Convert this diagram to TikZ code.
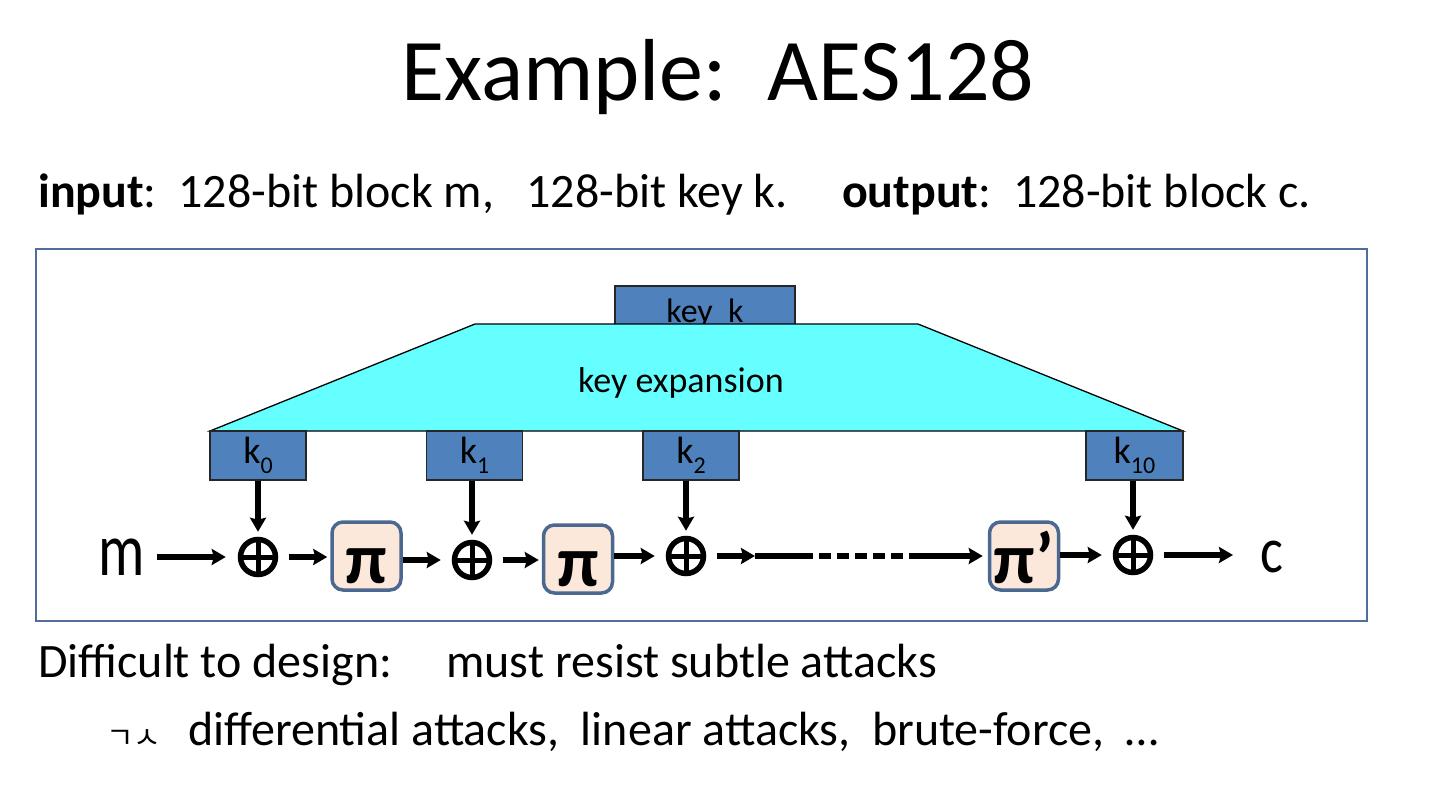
\documentclass[tikz,border=0pt]{standalone}
\usepackage{fontspec}
\setmainfont{Carlito}
\newfontfamily\krfont{Noto Sans CJK KR}
\usetikzlibrary{arrows.meta}
\definecolor{framecol}{HTML}{4F6E9E}
\definecolor{keyfill}{HTML}{4F81BD}
\definecolor{expfill}{HTML}{66FFFF}
\definecolor{pifill}{HTML}{FCE8DA}
\definecolor{piedge}{HTML}{4A6890}
\newcommand{\ksub}[1]{k\raisebox{-10pt}{\fontsize{24}{24}\selectfont #1}}
\tikzset{
  keybox/.style={draw=black!85, fill=keyfill, line width=1.3pt, minimum height=49pt, inner sep=0pt, font=\fontsize{38}{38}\selectfont},
  pibox/.style={draw=piedge, fill=pifill, line width=3.5pt, rounded corners=11pt, minimum width=69pt, minimum height=68pt, inner sep=0pt},
  pitext/.style={font=\fontsize{72}{72}\selectfont\bfseries, anchor=base, inner sep=0pt},
  flowline/.style={line width=6pt, -{Stealth[length=14pt,width=16pt,inset=2pt]}},
  xorsym/.style={circle, draw=black, line width=5.5pt, minimum size=35pt, inner sep=0pt},
  big/.style={font=\fontsize{48}{48}\selectfont, anchor=base west, inner sep=0pt},
}
\begin{document}
\begin{tikzpicture}[x=1pt,y=-1pt]
\useasboundingbox (0,0) rectangle (1440,811);
\node[font=\fontsize{88}{88}\selectfont, anchor=base] (title) at (718,100) {Example:\ \ AES128};
\node[big] (io) at (38,207) {\textbf{input}:\ \ 128-bit block m,\ \ \ 128-bit key k.\ \ \ \ \ \textbf{output}:\ \ 128-bit block c.};
\draw[framecol, line width=2pt] (36,249) rectangle (1367,621);
% key box (behind the trapezoid)
\draw[draw=black!85, fill=keyfill, line width=1.3pt] (615,286) rectangle (795,330);
\node[font=\fontsize{34}{34}\selectfont, anchor=base, inner sep=0pt] (key) at (705,322) {key\ \ k};
% key expansion trapezoid
\draw[fill=expfill, line width=1.3pt] (475,324) -- (918,324) -- (1183,431) -- (210,431) -- cycle;
\node[font=\fontsize{36}{36}\selectfont] (kexp) at (681,383) {key expansion};
\node[keybox, minimum width=96pt] (k0) at (258,455.5) {\ksub{0}};
\node[keybox, minimum width=96pt] (k1) at (474.5,455.5) {\ksub{1}};
\node[keybox, minimum width=96pt] (k2) at (691,455.5) {\ksub{2}};
\node[keybox, minimum width=97pt] (k10) at (1134.5,455.5) {\ksub{10}};
% xors
\node[xorsym] (x0) at (258,557) {};
\node[xorsym] (x1) at (472,560) {};
\node[xorsym] (x2) at (686,556) {};
\node[xorsym] (x3) at (1133,555) {};
\foreach \n in {x0,x1,x2,x3}{
  \draw[line width=5pt] (\n.north) -- (\n.south);
  \draw[line width=5pt] (\n.west) -- (\n.east);
}
% pi boxes
\node[pibox] (p1) at (366.5,556) {};
\node[pibox] (p2) at (578,559) {};
\node[pibox] (p3) at (1024,556) {};
\node[pitext] (p1t) at (366.5,583) {π};
\node[pitext] (p2t) at (578,586) {π};
\node[pitext] (p3t) at (1024,583) {π’};
\node[font=\fontsize{58}{58}\selectfont, anchor=base, inner sep=0pt] (m) at (122,575) {\scalebox{1}[1.3]{m}};
\node[font=\fontsize{54}{54}\selectfont, anchor=base, inner sep=0pt] (c) at (1272,572) {\scalebox{1}[1.2]{c}};
\coordinate (m1) at (157,557);
\coordinate (d1) at (755,556);
\coordinate (d2) at (801,556);
\coordinate (d3) at (910,556);
\coordinate (cend) at (1233,555);
% vertical arrows
\draw[flowline, shorten >=5pt] (k0.south -| x0) -- (x0.north);
\draw[flowline, shorten >=5pt] (k1.south -| x1) -- (x1.north);
\draw[flowline, shorten >=5pt] (k2.south -| x2) -- (x2.north);
\draw[flowline, shorten >=5pt] (k10.south -| x3) -- (x3.north);
% horizontal flow
\draw[flowline, shorten >=12pt] (m1) -- (m1 -| x0.west);
\draw[flowline, shorten <=11pt, shorten >=3pt] (x0.east) -- (p1.west |- x0.east);
\draw[flowline, shorten >=11pt] (p1.east |- x1.west) -- (x1.west);
\draw[flowline, shorten <=11pt, shorten >=3pt] (x1.east) -- (p2.west |- x1.east);
\draw[flowline, shorten >=11pt] (p2.east |- x2.west) -- (x2.west);
\draw[flowline, shorten <=11pt] (x2.east) -- (d1);
\draw[line width=6pt] (d1) -- (d2);
\draw[line width=6pt, dash pattern=on 12pt off 6pt] (d2) -- (d3);
\draw[flowline, shorten >=5pt] (d3) -- (p3.west |- d3);
\draw[flowline, shorten >=11pt] (p3.east |- x3.west) -- (x3.west);
\draw[flowline, shorten <=11pt] (x3.east) -- (cend);
% bottom text
\node[big] (diff) at (38,677) {Difficult to design:\ \ \ \ \ must resist subtle attacks};
\node[font=\krfont\fontsize{30}{30}\selectfont, anchor=base west, inner sep=0pt] (bul) at (106,748) {ㄱㅅ};
\node[big] (att) at (188,745) {differential attacks,\ \ linear attacks,\ \ brute-force,\ \ …};
\end{tikzpicture}
\end{document}
